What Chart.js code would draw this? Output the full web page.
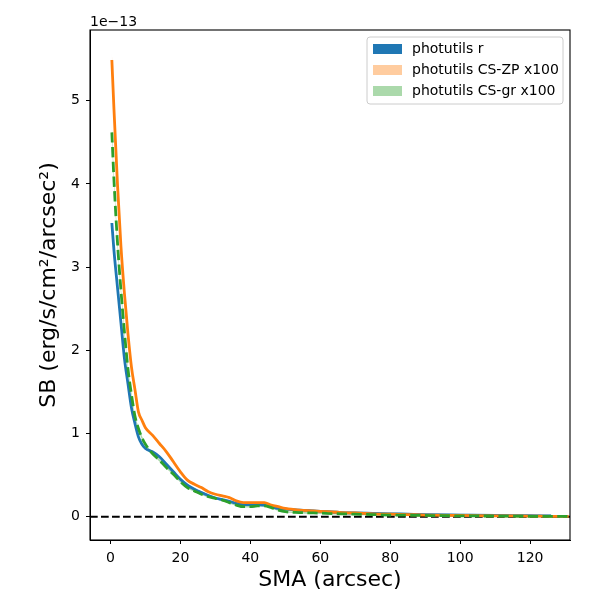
<!DOCTYPE html>
<html>
<head>
<meta charset="utf-8">
<script src="https://cdn.jsdelivr.net/npm/chart.js@4.4.1/dist/chart.umd.min.js"></script>
<style>
  html, body { margin: 0; padding: 0; background: #fff; }
</style>
</head>
<body>
<canvas id="sbChart" width="600" height="600"></canvas>
<script>
// SMA in arcsec, SB in units of 1e-13 erg/s/cm2/arcsec2
const sma = [0.4, 1, 2, 3, 4, 5, 6, 7, 8, 9, 10, 12, 14, 16, 18, 20, 22, 24, 26, 28,
  30, 32, 34, 36, 38, 40, 42, 44, 46, 48, 50, 54, 58, 62, 66, 70, 75, 80, 85, 90,
  100, 110, 120, 126, 131];

const sbR = [3.53, 3.2, 2.76, 2.33, 1.9, 1.6, 1.31, 1.12, 0.96, 0.87, 0.82, 0.78, 0.72, 0.63, 0.54, 0.45, 0.38, 0.33, 0.29, 0.255,
  0.225, 0.205, 0.185, 0.16, 0.145, 0.145, 0.145, 0.14, 0.12, 0.1, 0.09, 0.08, 0.07, 0.06, 0.05, 0.045, 0.04, 0.035, 0.03, 0.025,
  0.02, 0.015, 0.012, 0.01, null];
const errR = [0.02, 0.02, 0.02, 0.02, 0.02, 0.02, 0.02, 0.02, 0.015, 0.015, 0.015, 0.015, 0.015, 0.015, 0.015, 0.015, 0.015, 0.015, 0.015, 0.015,
  0.015, 0.015, 0.015, 0.015, 0.015, 0.015, 0.015, 0.015, 0.015, 0.015, 0.015, 0.015, 0.015, 0.015, 0.015, 0.015, 0.015, 0.015, 0.015, 0.015,
  0.015, 0.015, 0.015, 0.015, null];

const sbZP = [5.49, 4.9, 4.0, 3.25, 2.68, 2.2, 1.8, 1.53, 1.26, 1.16, 1.07, 0.98, 0.88, 0.78, 0.66, 0.54, 0.44, 0.39, 0.35, 0.3,
  0.27, 0.25, 0.23, 0.19, 0.17, 0.17, 0.17, 0.17, 0.14, 0.12, 0.1, 0.08, 0.07, 0.06, 0.05, 0.045, 0.035, 0.03, 0.025, 0.02,
  0.015, 0.01, 0.008, 0.005, 0.005];
const errZP = [0.09, 0.07, 0.06, 0.05, 0.04, 0.035, 0.03, 0.025, 0.02, 0.02, 0.02, 0.015, 0.015, 0.015, 0.015, 0.01, 0.01, 0.01, 0.01, 0.01,
  0.01, 0.01, 0.01, 0.01, 0.01, 0.01, 0.01, 0.01, 0.01, 0.01, 0.01, 0.01, 0.01, 0.01, 0.01, 0.01, 0.01, 0.01, 0.01, 0.01,
  0.01, 0.01, 0.01, 0.01, 0.01];

const sbGR = [4.62, 4.05, 3.3, 2.72, 2.22, 1.78, 1.47, 1.21, 1.06, 0.95, 0.87, 0.76, 0.68, 0.59, 0.51, 0.42, 0.35, 0.31, 0.27, 0.24,
  0.22, 0.2, 0.17, 0.14, 0.12, 0.12, 0.13, 0.13, 0.11, 0.08, 0.06, 0.05, 0.045, 0.04, 0.035, 0.03, 0.025, 0.02, 0.018, 0.015,
  0.01, 0.008, 0.005, 0.004, 0.003];
const errGR = [0.08, 0.06, 0.05, 0.04, 0.035, 0.03, 0.025, 0.02, 0.02, 0.02, 0.015, 0.015, 0.015, 0.015, 0.01, 0.01, 0.01, 0.01, 0.01, 0.01,
  0.01, 0.01, 0.01, 0.01, 0.01, 0.01, 0.01, 0.01, 0.01, 0.01, 0.01, 0.01, 0.01, 0.01, 0.01, 0.01, 0.01, 0.01, 0.01, 0.01,
  0.01, 0.01, 0.01, 0.01, 0.01];

const xTicks = [0, 20, 40, 60, 80, 100, 120];
const yTicks = [0, 1, 2, 3, 4, 5];

const series = [
  { label: "photutils r", sb: sbR, err: errR, color: "#1f77b4", band: "rgba(31,119,180,0.4)", key: "#1f77b4", dash: [], order: 2 },
  { label: "photutils CS-ZP x100", sb: sbZP, err: errZP, color: "#ff7f0e", band: "rgba(255,127,14,0.4)", key: "rgba(255,127,14,0.4)", dash: [], order: 1 },
  { label: "photutils CS-gr x100", sb: sbGR, err: errGR, color: "#2ca02c", band: "rgba(44,160,44,0.4)", key: "rgba(44,160,44,0.4)", dash: [10.3, 4.4], order: 0 }
];

function pts(vals) {
  return sma.map((x, i) => ({ x: x, y: vals[i] }));
}

const datasets = [];
series.forEach(s => {
  const hi = s.sb.map((v, i) => v === null ? null : v + s.err[i]);
  const lo = s.sb.map((v, i) => v === null ? null : v - s.err[i]);
  datasets.push({ label: s.label, legendColor: s.key, data: pts(hi), fill: "+1",
    backgroundColor: s.band, borderWidth: 0, pointRadius: 0, order: 10 });
  datasets.push({ label: "", data: pts(lo), fill: false,
    borderWidth: 0, pointRadius: 0, order: 10 });
  datasets.push({ label: "", data: pts(s.sb), fill: false, borderColor: s.color,
    borderWidth: 2.8, borderDash: s.dash, pointRadius: 0, order: s.order });
});

const FONT = "'DejaVu Sans', sans-serif";

// frame, zero line, offset text and legend (matplotlib style)
const decor = {
  id: "decor",
  beforeDatasetsDraw(chart) {
    const { ctx, chartArea: a, scales } = chart;
    const y0 = scales.y.getPixelForValue(0);
    ctx.save();
    ctx.strokeStyle = "#000";
    ctx.lineWidth = 2;
    ctx.setLineDash([7.7, 3.3]);
    ctx.beginPath();
    ctx.moveTo(a.left, y0);
    ctx.lineTo(a.right, y0);
    ctx.stroke();
    ctx.restore();
  },
  afterDraw(chart) {
    const { ctx, chartArea: a } = chart;
    ctx.save();
    ctx.strokeStyle = "#000";
    ctx.lineWidth = 1.1;
    ctx.strokeRect(a.left, a.top, a.right - a.left, a.bottom - a.top);

    ctx.fillStyle = "#000";
    ctx.font = "14px " + FONT;
    ctx.textAlign = "left";
    ctx.textBaseline = "alphabetic";
    ctx.fillText("1e\u221213", a.left, a.top - 4);

    // legend
    const items = chart.data.datasets.filter(d => d.legendColor);
    const lw = 196, lh = 67;
    const lx = a.right - 7 - lw, ly = a.top + 7;
    ctx.fillStyle = "rgba(255,255,255,0.8)";
    ctx.strokeStyle = "#cccccc";
    ctx.lineWidth = 1;
    ctx.beginPath();
    ctx.roundRect(lx, ly, lw, lh, 3);
    ctx.fill();
    ctx.stroke();
    ctx.textBaseline = "middle";
    items.forEach((d, i) => {
      const cy = ly + 12 + i * 21;
      ctx.fillStyle = d.legendColor;
      ctx.fillRect(lx + 6, cy - 5, 29, 10);
      ctx.fillStyle = "#000";
      ctx.fillText(d.label, lx + 45, cy);
    });
    ctx.restore();
  }
};

Chart.defaults.color = "#000";
Chart.defaults.font.family = FONT;

const ctx = document.getElementById("sbChart").getContext("2d");

const sbChart = new Chart(ctx, {
  type: "line",
  data: { datasets: datasets },
  options: {
    responsive: false,
    animation: false,
    layout: { padding: { top: 30, right: 30, left: 0, bottom: 0 } },
    elements: { line: { cubicInterpolationMode: "monotone" } },
    plugins: { legend: { display: false }, tooltip: { enabled: false } },
    scales: {
      x: {
        type: "linear",
        min: -5.85,
        max: 131.4,
        afterBuildTicks: s => { s.ticks = xTicks.map(v => ({ value: v })); },
        afterFit: s => { s.height = 60; },
        ticks: { font: { size: 14 }, padding: 6, maxRotation: 0 },
        grid: { drawOnChartArea: false, drawTicks: true, tickLength: 4, tickColor: "#000" },
        border: { color: "#000" },
        title: { display: true, text: "SMA (arcsec)", font: { size: 22 }, padding: { top: 0, bottom: 7 } }
      },
      y: {
        min: -0.28,
        max: 5.85,
        afterBuildTicks: s => { s.ticks = yTicks.map(v => ({ value: v })); },
        afterFit: s => { s.width = 90; },
        ticks: { font: { size: 14 }, padding: 6, callback: v => String(v) },
        grid: { drawOnChartArea: false, drawTicks: true, tickLength: 4, tickColor: "#000" },
        border: { color: "#000" },
        title: { display: true, text: "SB (erg/s/cm\u00b2/arcsec\u00b2)", font: { size: 22 }, padding: { top: 36, bottom: 0 } }
      }
    }
  },
  plugins: [decor]
});
</script>
</body>
</html>
